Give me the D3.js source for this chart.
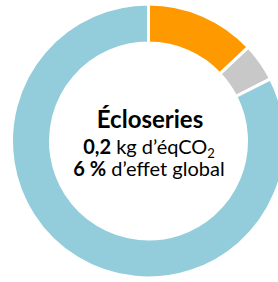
<!DOCTYPE html>
<html><head><meta charset="utf-8">
<script src="https://cdn.jsdelivr.net/npm/d3@7"></script>
<style>html,body{margin:0;padding:0;background:#fff;overflow:hidden}</style>
</head><body>
<script>
const categories = ["Écloseries", "Autre", "Reste"];
const values = [13, 4.5, 82.5];
const colors = ["#FF9900", "#C8C8C9", "#93CDDC"];
const title = "Écloseries";
const line2Bold = "0,2", line2Rest = " kg d’éqCO";
const line3Bold = "6 %", line3Rest = " d’effet global";

const W = 278, H = 282;
const cx = 148.5, cy = 141, rOut = 137, rIn = 98;
const svg = d3.select("body").append("svg").attr("width", W).attr("height", H);
const g = svg.append("g").attr("transform", `translate(${cx},${cy})`);
const pie = d3.pie().sort(null).value(d => d);
const arc = d3.arc().innerRadius(rIn).outerRadius(rOut);
g.selectAll("path").data(pie(values)).join("path")
  .attr("d", arc).attr("fill", (d, i) => colors[i])
  .attr("stroke", "#fff").attr("stroke-width", 3).attr("stroke-linejoin", "miter");

const font = "Lato, 'Open Sans', sans-serif";
const t = svg.append("g").attr("font-family", font).attr("fill", "#000").attr("text-anchor", "middle");
t.append("text").attr("x", 150).attr("y", 128).attr("font-size", 24).attr("font-weight", "bold").text(title);
const l2 = t.append("text").attr("x", 149).attr("y", 154).attr("font-size", 20);
l2.append("tspan").attr("font-weight", "bold").text(line2Bold);
l2.append("tspan").text(line2Rest);
l2.append("tspan").attr("font-size", 13).attr("dy", 4).text("2");
const l3 = t.append("text").attr("x", 149).attr("y", 176).attr("font-size", 20);
l3.append("tspan").attr("font-weight", "bold").text(line3Bold);
l3.append("tspan").text(line3Rest);
</script>
</body></html>
